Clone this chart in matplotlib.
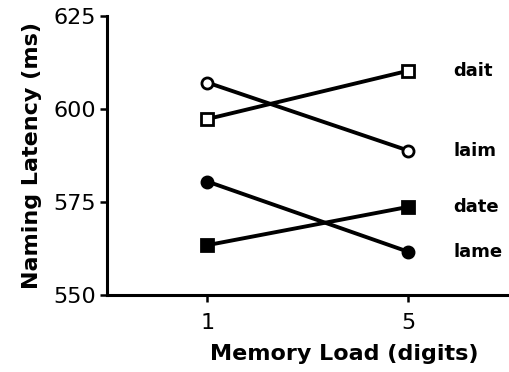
import numpy as np
import matplotlib.pyplot as plt

plt.rcParams['font.family'] = ['DejaVu Sans']

# Memory load conditions and naming latencies (ms)
loads = [1, 5]
dait = [597.3, 610.3]
laim = [607.1, 588.8]
date = [563.4, 573.7]
lame = [580.5, 561.6]

series = [
    ('dait', dait, 's', 'white'),
    ('laim', laim, 'o', 'white'),
    ('date', date, 's', 'black'),
    ('lame', lame, 'o', 'black'),
]

fig = plt.figure(figsize=(5.09, 3.72), dpi=100)
ax = fig.add_axes([0.210, 0.207, 0.790, 0.750])

for name, vals, marker, face in series:
    ax.plot(loads, vals, color='black', linewidth=2.8, marker=marker,
            markersize=8, markerfacecolor=face, markeredgecolor='black',
            markeredgewidth=2)
    ax.text(5.9, vals[1], name, fontsize=13, fontweight='bold', va='center', ha='left')

ax.set_xlim(-1, 7)
ax.set_ylim(550, 625)
ax.set_xticks(loads)
ax.set_yticks([550, 575, 600, 625])
ax.tick_params(labelsize=16, width=1.8, length=5, pad=3)
ax.tick_params(axis='x', pad=8)
for s in ['top', 'right']:
    ax.spines[s].set_visible(False)
for s in ['left', 'bottom']:
    ax.spines[s].set_linewidth(2.2)

ax.set_xlabel('Memory Load (digits)', fontsize=16, fontweight='bold')
ax.xaxis.set_label_coords(0.59, -0.175)
ax.set_ylabel('Naming Latency (ms)', fontsize=16, fontweight='bold', labelpad=8)

fig.savefig('out.png', dpi=100)
